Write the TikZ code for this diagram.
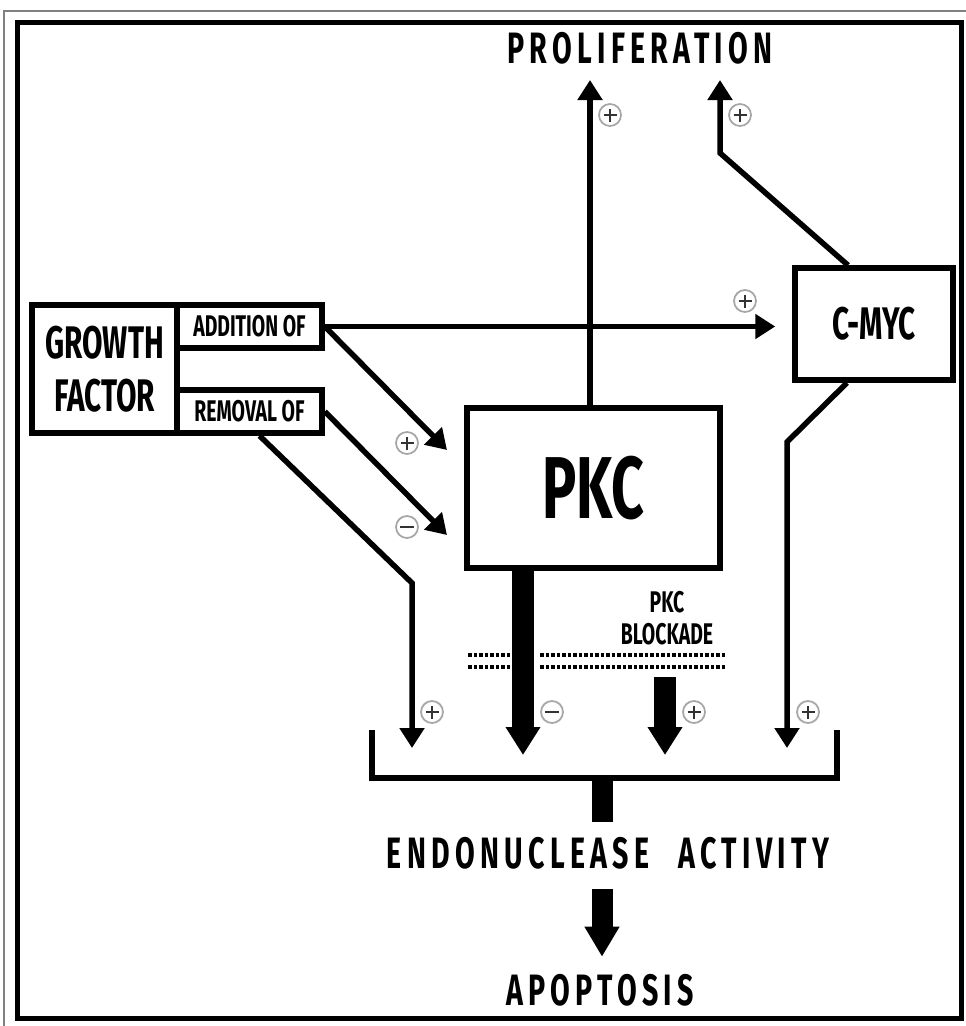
\documentclass[tikz,border=0pt]{standalone}
\usepackage{fontspec}
\usepackage{tikz}
\usetikzlibrary{arrows.meta,positioning}
\newfontfamily\rotulo{Fira Sans}[FakeStretch=0.65] %Fonte estreita
\newfontfamily\rotuloesp{Fira Sans}[FakeStretch=0.65,LetterSpace=12] %Fonte estreita espacada

\tikzset{
	caixa/.style={draw, line width=1.1mm, inner sep=0pt, font=\rotulo\bfseries, align=center},
	liga/.style={line width=1.1mm},
	seta/.style={liga, -{Triangle[width=4.8mm,length=4mm]}},
	setagrossa/.style={line width=4.4mm, -{Triangle[width=6.6mm,length=5.6mm]}},
	pontos/.style={line width=0.7mm, dash pattern=on 0.7mm off 0.4mm},
	sinal/.style={circle, draw=gray!70, line width=0.35mm, minimum size=4.4mm, inner sep=0pt},
	mais/.style={sinal, path picture={\draw[black!80, line width=0.35mm]
		([yshift=-1.3mm]path picture bounding box.center) -- ([yshift=1.3mm]path picture bounding box.center)
		([xshift=-1.3mm]path picture bounding box.center) -- ([xshift=1.3mm]path picture bounding box.center);}},
	menos/.style={sinal, path picture={\draw[black!80, line width=0.5mm]
		([xshift=-1.4mm]path picture bounding box.center) -- ([xshift=1.4mm]path picture bounding box.center);}},
	titulo/.style={font=\rotuloesp\bfseries\fontsize{25}{25}\selectfont, inner sep=0pt}
}

\begin{document}
\begin{tikzpicture}[x=0.2mm, y=-0.2mm] %Escala em pixels da figura
		%Moldura
	\useasboundingbox (0,0) rectangle (966,1026);
	\draw[gray, line width=0.4mm] (4,1040) -- (4,11) -- (980,11); %Linha externa
	\draw[line width=1mm] (17,22) rectangle (961,1018); %Linha interna
		%Caixas
	\node[caixa, minimum width=29mm, minimum height=25.6mm, font=\rotulo\bfseries\fontsize{26}{30}\selectfont] (fator) at (104.5,369) {GROWTH\\FACTOR};
	\node[caixa, minimum width=29mm, minimum height=8.6mm, font=\rotulo\bfseries\fontsize{17}{17}\selectfont] (adicao) at (249.5,326.5) {ADDITION OF};
	\node[caixa, minimum width=29mm, minimum height=8.6mm, font=\rotulo\bfseries\fontsize{17}{17}\selectfont] (remocao) at (249.5,411.5) {REMOVAL OF};
	\node[caixa, minimum width=50.6mm, minimum height=32mm, font=\rotulo\bfseries\fontsize{50}{50}\selectfont] (pkc) at (593.5,488) {PKC};
	\node[caixa, minimum width=31.6mm, minimum height=22.4mm, font=\rotulo\bfseries\fontsize{26}{26}\selectfont] (cmyc) at (874,324) {C-MYC};
		%Textos
	\node[titulo] (prolif) at (640,48) {PROLIFERATION};
	\node[titulo] (endo) at (608,853) {ENDONUCLEASE\ \hspace{3.5mm}ACTIVITY};
	\node[titulo] (apop) at (600,990) {APOPTOSIS};
	\node[font=\rotulo\bfseries\fontsize{17}{18}\selectfont, align=center, inner sep=0pt] (bloqueio) at (667,618) {PKC\\BLOCKADE};
		%Pontos de apoio
	\coordinate (p1) at (590,80);
	\coordinate (p2) at (720,80);
	\coordinate (c1) at (720,153);
	\coordinate (a1) at (447,450);
	\coordinate (r1) at (447,535);
	\coordinate (r2) at (412,583);
	\coordinate (r3) at (412,748);
	\coordinate (k1) at (523,755);
	\coordinate (b0) at (665,677);
	\coordinate (b1) at (665,755);
	\coordinate (m1) at (787,442);
	\coordinate (m2) at (787,748);
		%Ligacoes
	\draw[seta] (pkc.north -| p1) -- (p1); %Para proliferacao
	\draw[seta] ([xshift=-5.2mm]cmyc.north) -- (c1) -- (p2); %C-MYC para proliferacao
	\draw[seta, shorten >=3.4mm] (adicao.east) -- (cmyc.west |- adicao.east); %Adicao para C-MYC
	\draw[seta] (adicao.east) -- (a1); %Adicao para PKC
	\draw[seta] (remocao.east) -- (r1); %Remocao para PKC
	\draw[seta] ([xshift=2mm]remocao.south) -- (r2) -- (r3); %Remocao para endonuclease
	\draw[setagrossa] (pkc.south -| k1) -- (k1); %PKC para endonuclease
	\draw[setagrossa] (b0) -- (b1); %Bloqueio
	\draw[seta] ([xshift=-5.4mm]cmyc.south) -- (m1) -- (m2); %C-MYC para endonuclease
		%Chave e saida
	\draw[liga] (372,730) -- (372,778) -- (837,778) -- (837,730);
	\draw[line width=4.2mm] (602,778) -- ([yshift=3mm]endo.north -| 602,0);
	\draw[line width=4.2mm, -{Triangle[width=6.6mm,length=6mm]}] ([yshift=-4mm]endo.south -| 602,0) -- ([yshift=3.4mm]apop.north -| 602,0);
		%Linhas pontilhadas
	\draw[pontos] (468,655) -- (510,655) (540,655) -- (725,655);
	\draw[pontos] (468,667) -- (510,667) (540,667) -- (725,667);
		%Sinais
	\node[mais] (s1) at (610,115) {};
	\node[mais] (s2) at (740,115) {};
	\node[mais] (s3) at (745,301) {};
	\node[mais] (s4) at (407,443) {};
	\node[menos] (s5) at (407,527) {};
	\node[mais] (s6) at (432,712) {};
	\node[menos] (s7) at (552,712) {};
	\node[mais] (s8) at (694,712) {};
	\node[mais] (s9) at (808,712) {};
\end{tikzpicture}
\end{document}
